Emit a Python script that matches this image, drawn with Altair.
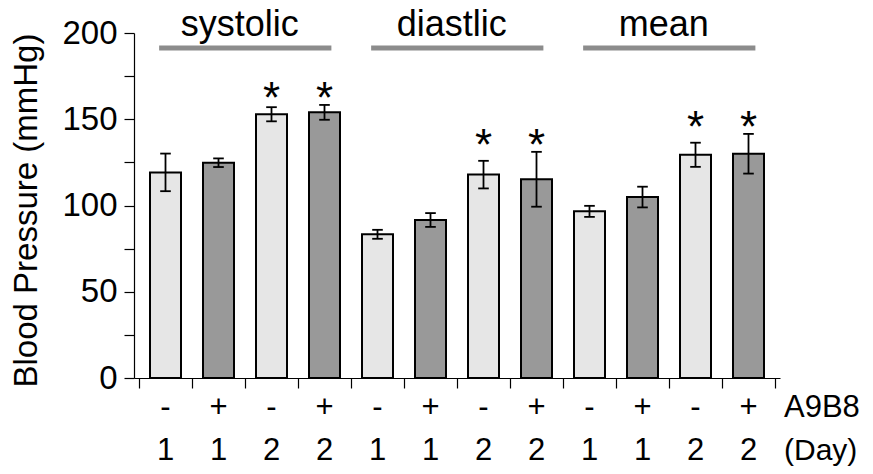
import altair as alt
import pandas as pd

# ---- data ----
groups = ["systolic", "diastlic", "mean"]
a9b8 = ["-", "+", "-", "+", "-", "+", "-", "+", "-", "+", "-", "+"]
days = ["1", "1", "2", "2", "1", "1", "2", "2", "1", "1", "2", "2"]
means = [119.2, 124.8, 152.9, 154.0, 83.3, 91.6, 117.9, 115.2, 96.6, 104.9, 129.4, 130.0]
errs = [10.9, 2.5, 4.1, 4.3, 2.6, 4.0, 8.0, 15.9, 3.2, 6.0, 7.0, 11.5]
signif = [False, False, True, True, False, False, True, True, False, False, True, True]
row_labels = ["A9B8", "(Day)"]

FONT = "Liberation Sans, Arial, Helvetica, sans-serif"

df = pd.DataFrame({
    "treat": a9b8,
    "day": days,
    "mean": means,
    "err": errs,
    "sig": signif,
})
df["idx"] = range(len(df))
df["pos"] = df["idx"] + 0.5
df["group"] = [groups[i // 4] for i in df["idx"]]
df["lo"] = df["mean"] - df["err"]
df["hi"] = df["mean"] + df["err"]
df["capL"] = df["pos"] - 0.1
df["capR"] = df["pos"] + 0.1
df["gmax"] = df.groupby("group")["hi"].transform("max")

gdf = pd.DataFrame({"group": groups})
gdf["g"] = range(len(groups))
gdf["start"] = gdf["g"] * 4 + 0.38
gdf["end"] = gdf["g"] * 4 + 3.63
gdf["mid"] = gdf["g"] * 4 + 1.9

xs = alt.Scale(domain=[0, 12], nice=False, zero=False)
xa = alt.Axis(values=list(range(0, 13)), labels=False, tickSize=10, title=None,
              grid=False, domainColor="black", tickColor="black", domainWidth=1.2, tickWidth=1.2)
ys = alt.Scale(domain=[0, 200], nice=False)
ya = alt.Axis(values=list(range(0, 201, 25)),
              labelExpr="datum.value % 50 == 0 ? datum.label : ''",
              tickSize=10, labelFontSize=33, labelPadding=7, labelOverlap=False,
              labelFlush=False, grid=False, domainColor="black", tickColor="black",
              domainWidth=1.2, tickWidth=1.2, labelColor="black",
              title="Blood Pressure (mmHg)", titleFontSize=33, titleFontWeight="normal",
              titleColor="black", titleX=-91, titleY=177)


def X(f):
    return alt.X(f"{f}:Q", scale=xs, axis=xa)


def Y(f):
    return alt.Y(f"{f}:Q", scale=ys, axis=ya)


base = alt.Chart(df)

bars = base.mark_bar(size=31, stroke="black", strokeWidth=2).encode(
    x=X("pos"), y=Y("mean"),
    color=alt.Color("treat:N", scale=alt.Scale(domain=["-", "+"], range=["#e6e6e6", "#999999"]), legend=None),
)

err_v = base.mark_rule(color="black", strokeWidth=1.8).encode(x=X("pos"), y=Y("lo"), y2="hi")

caps = base.transform_fold(["lo", "hi"], as_=["k", "v"]).mark_rule(color="black", strokeWidth=1.8).encode(
    x=X("capL"), x2="capR", y=Y("v")
)

stars = alt.Chart(df[df["sig"]]).mark_text(text="*", fontSize=44, baseline="alphabetic", dy=8,
                                           font=FONT, color="black").encode(x=X("pos"), y=Y("gmax"))

glines = alt.Chart(gdf).mark_rule(color="#8c8c8c", strokeWidth=5).encode(
    x=X("start"), x2="end", y=alt.value(15)
)
glabels = alt.Chart(gdf).mark_text(fontSize=36, baseline="alphabetic", font=FONT, color="black").encode(
    x=X("mid"), y=alt.value(3), text="group:N"
)

row1 = base.mark_text(fontSize=31, baseline="alphabetic", font=FONT, color="black").encode(
    x=X("pos"), y=alt.value(384), text="treat:N"
)
row2 = base.mark_text(fontSize=31, baseline="alphabetic", font=FONT, color="black").encode(
    x=X("pos"), y=alt.value(427), text="day:N"
)

rl1 = alt.Chart(pd.DataFrame({"label": [row_labels[0]]})).mark_text(
    fontSize=31, baseline="alphabetic", align="left", dx=9, font=FONT, color="black"
).encode(x=alt.datum(12, scale=xs), y=alt.value(384), text="label:N")
rl2 = alt.Chart(pd.DataFrame({"label": [row_labels[1]]})).mark_text(
    fontSize=30, baseline="alphabetic", align="left", dx=9, font=FONT, color="black"
).encode(x=alt.datum(12, scale=xs), y=alt.value(427), text="label:N")

chart = alt.layer(bars, err_v, caps, stars, glines, glabels, row1, row2, rl1, rl2).properties(
    width=646, height=345,
    padding={"left": 126, "top": 25, "right": 85, "bottom": 88},
    autosize=alt.AutoSizeParams(type="none"),
).configure_view(stroke=None).configure_axis(labelFont=FONT, titleFont=FONT)

chart.save("out.html", embed_options={"renderer": "svg", "actions": False})
